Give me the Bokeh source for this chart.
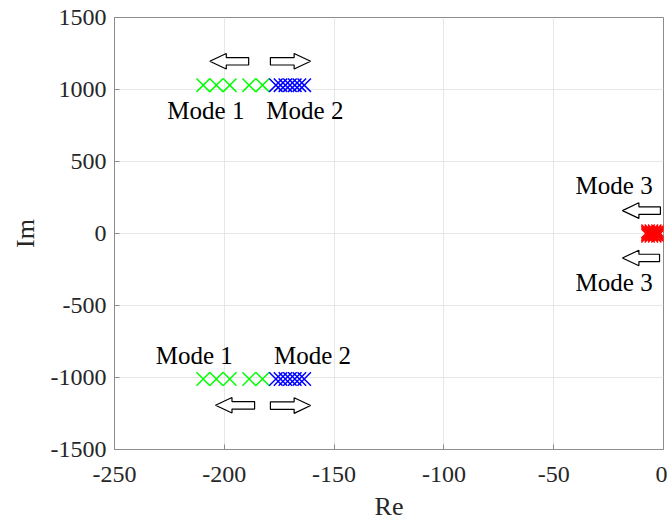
from bokeh.plotting import figure
from bokeh.models import Range1d, FixedTicker, ColumnDataSource
from bokeh.core.properties import value
from bokeh.embed import file_html
from bokeh.resources import INLINE

# ---- data (eigenvalues) ----
mode1_re = [-209.6, -203.6, -197.5, -188.7, -182.6]
mode1_im_pos = [1030] * 5
mode1_im_neg = [-1010] * 5

mode2_re = [-176.5, -174.4, -172.2, -170.1, -167.9, -165.8, -163.6]
mode2_im_pos = [1030] * 7
mode2_im_neg = [-1010] * 7

mode3_re = [-7.0, -5.5, -4.0, -2.5, -7.0, -5.5, -4.0, -2.5, -7.0, -5.5, -4.0, -2.5, -7.0, -5.5, -4.0, -2.5]
mode3_im = [16, 16, 16, 16, 5, 5, 5, 5, -5, -5, -5, -5, -16, -16, -16, -16]

x_ticks = [-250, -200, -150, -100, -50, 0]
y_ticks = [-1500, -1000, -500, 0, 500, 1000, 1500]

# annotations
label_text = ["Mode 1", "Mode 2", "Mode 1", "Mode 2", "Mode 3", "Mode 3"]
label_x = [-208.4, -163.3, -213.7, -159.8, -22.5, -22.5]
label_y = [853, 853, -846, -846, 333, -338]

arrow_tail_x = [-188.9, -179.0, -186.2, -179.0, -1.4, -1.8]
arrow_tip_x = [-206.6, -160.7, -204.0, -160.7, -18.7, -18.7]
arrow_y = [1196, 1196, -1193, -1195, 159, -170]

FONT = "Liberation Serif"

p = figure(frame_width=549, frame_height=432, output_backend="svg", toolbar_location=None,
           x_range=Range1d(-250, 0), y_range=Range1d(-1500, 1500),
           min_border_left=114, min_border_right=4, min_border_top=17, min_border_bottom=74)
p.background_fill_color = "white"
p.border_fill_color = "white"
p.outline_line_color = "#8c8c8c"
p.outline_line_width = 1

for ax in (p.xaxis[0], p.yaxis[0]):
    ax.axis_line_color = "#8c8c8c"
    ax.major_tick_line_color = "#8c8c8c"
    ax.major_tick_in = 5
    ax.major_tick_out = 0
    ax.minor_tick_line_color = None
    ax.major_label_text_font = FONT
    ax.major_label_text_font_size = "24px"
    ax.major_label_text_color = "#262626"
    ax.axis_label_text_font = FONT
    ax.axis_label_text_font_size = "26px"
    ax.axis_label_text_font_style = "normal"
    ax.axis_label_text_color = "#262626"

p.xaxis.ticker = FixedTicker(ticks=x_ticks)
p.yaxis.ticker = FixedTicker(ticks=y_ticks)
p.xaxis.major_label_overrides = {t: str(t) for t in x_ticks}
p.yaxis.major_label_overrides = {t: str(t) for t in y_ticks}
p.xaxis.axis_label = "Re"
p.yaxis.axis_label = "Im"
p.xaxis.major_label_standoff = 17
p.yaxis.major_label_standoff = 8
p.xaxis.axis_label_standoff = 7
p.yaxis.axis_label_standoff = 8

p.xgrid.ticker = FixedTicker(ticks=x_ticks)
p.ygrid.ticker = FixedTicker(ticks=y_ticks)
p.xgrid.grid_line_color = "#e6e6e6"
p.ygrid.grid_line_color = "#e6e6e6"

# markers
MS = 19
p.scatter(mode1_re, mode1_im_pos, marker="x", size=MS, line_color="#00ff00", line_width=1.5)
p.scatter(mode1_re, mode1_im_neg, marker="x", size=MS, line_color="#00ff00", line_width=1.5)
p.scatter(mode2_re, mode2_im_pos, marker="x", size=MS, line_color="#0000ff", line_width=1.5)
p.scatter(mode2_re, mode2_im_neg, marker="x", size=MS, line_color="#0000ff", line_width=1.5)
p.scatter(mode3_re, mode3_im, marker="x", size=MS, line_color="#ff0000", line_width=1.5)

# block arrows
HEAD_LEN = 7.5     # data units along x
HEAD_HALF = 54     # data units along y
SHAFT_HALF = 26
xs, ys = [], []
for tx, hx, y in zip(arrow_tail_x, arrow_tip_x, arrow_y):
    d = 1 if hx > tx else -1
    bx = hx - d * HEAD_LEN
    xs.append([tx, bx, bx, hx, bx, bx, tx])
    ys.append([y - SHAFT_HALF, y - SHAFT_HALF, y - HEAD_HALF, y, y + HEAD_HALF, y + SHAFT_HALF, y + SHAFT_HALF])
p.patches(xs, ys, fill_color="white", line_color="black", line_width=1.2)

# labels
src = ColumnDataSource(dict(x=label_x, y=label_y, t=label_text))
p.text(x="x", y="y", text="t", source=src, text_font=value(FONT), text_font_size="25px",
       text_align="center", text_baseline="middle", text_color="black")

open("out.html", "w").write(file_html(p, INLINE))
